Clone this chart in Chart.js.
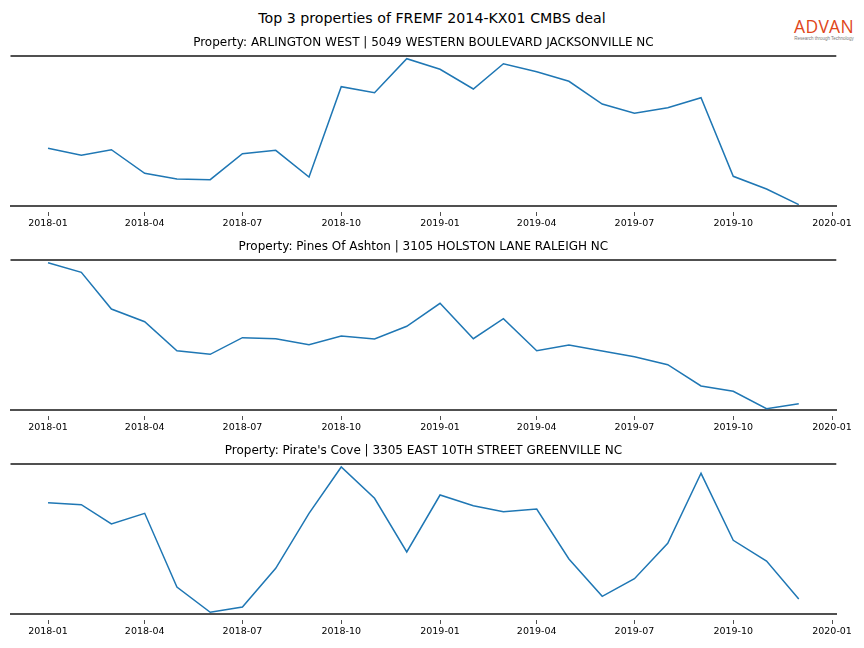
<!DOCTYPE html>
<html>
<head>
<meta charset="utf-8">
<script src="https://cdn.jsdelivr.net/npm/chart.js@4/dist/chart.umd.min.js"></script>
<style>
  body { margin: 0; background: #fff; }
  #wrap { position: relative; width: 864px; height: 648px; font-family: "DejaVu Sans", sans-serif; }
  #suptitle { position: absolute; left: 0; top: 10px; width: 864px; text-align: center; font-size: 14.2px; color: #000; }
  #logo { position: absolute; left: 788px; top: 17px; width: 72px; text-align: center; font-family: "Open Sans", sans-serif; }
  #logo .name { color: #e0461a; font-size: 17.5px; line-height: 19px; letter-spacing: 0.3px; }
  #logo .tag { color: #777; font-family: "Liberation Sans", sans-serif; font-size: 4.5px; line-height: 5px; white-space: nowrap; }
  canvas { position: absolute; left: 0; }
</style>
</head>
<body>
<div id="wrap">
  <div id="suptitle">Top 3 properties of FREMF 2014-KX01 CMBS deal</div>
  <div id="logo"><div class="name">ADVAN</div><div class="tag">Research through Technology</div></div>
  <canvas id="c0" width="864" height="204" style="top:28px"></canvas>
  <canvas id="c1" width="864" height="204" style="top:232px"></canvas>
  <canvas id="c2" width="864" height="204" style="top:436px"></canvas>
</div>
<script>
// monthly observations
let months = ["2018-01","2018-02","2018-03","2018-04","2018-05","2018-06",
              "2018-07","2018-08","2018-09","2018-10","2018-11","2018-12",
              "2019-01","2019-02","2019-03","2019-04","2019-05","2019-06",
              "2019-07","2019-08","2019-09","2019-10","2019-11","2019-12"];
let tickLabels = ["2018-01","2018-04","2018-07","2018-10","2019-01","2019-04","2019-07","2019-10","2020-01"];

let titles = [
  "Property: ARLINGTON WEST | 5049 WESTERN BOULEVARD JACKSONVILLE NC",
  "Property: Pines Of Ashton | 3105 HOLSTON LANE RALEIGH NC",
  "Property: Pirate's Cove | 3305 EAST 10TH STREET GREENVILLE NC"
];

let arlington = [57.7,50.7,56.3,32.7,27,26.3,52.3,55.7,29,119.3,113.3,147.3,
                 136.7,117,142.3,134.3,124.7,102,92.7,98.3,108.3,29.7,17,1.3];
let pines     = [147.3,137.7,101,88.3,59.3,55.7,72.3,71.3,65.3,74,71,83.7,
                 106.7,71.3,91.3,59.3,65,59,53.3,45.3,24,18.7,1.3,6.3];
let pirates   = [111.3,109.3,90,100.7,27,1.7,7,45.7,100.7,147,115.7,62,
                 119,108.3,102.3,105,55,17.7,35.3,70.7,140.7,73.7,53,15];

let series = [arlington, pines, pirates];

// days since 2018-01-01, so months sit on a real date axis
function dayOf(s) {
  let p = s.split('-');
  return (Date.UTC(+p[0], +p[1] - 1, 1) - Date.UTC(2018, 0, 1)) / 864e5;
}

let first = dayOf(months[0]);
let last = dayOf(months[months.length - 1]);
let pad = (last - first) * 0.05;

// top spine line
let topSpine = {
  id: 'topSpine',
  afterDraw(chart) {
    let a = chart.chartArea, ctx = chart.ctx;
    ctx.save();
    ctx.strokeStyle = '#505050';
    ctx.lineWidth = 2;
    ctx.beginPath();
    ctx.moveTo(a.left, a.top);
    ctx.lineTo(a.right, a.top);
    ctx.stroke();
    ctx.restore();
  }
};

series.forEach(function (vals, i) {
  let ctx = document.getElementById('c' + i).getContext('2d');
  new Chart(ctx, {
    type: 'line',
    data: {
      datasets: [{
        data: months.map((m, k) => ({ x: dayOf(m), y: vals[k] })),
        borderColor: '#1f77b4',
        borderWidth: 1.5,
        pointRadius: 0,
        tension: 0,
        fill: false
      }]
    },
    options: {
      responsive: false,
      animation: false,
      devicePixelRatio: 1,
      layout: { padding: { left: 10.5, right: 27.7, top: 0, bottom: 0.6 } },
      plugins: {
        legend: { display: false },
        tooltip: { enabled: false },
        title: {
          display: true,
          text: titles[i],
          color: '#000',
          font: { family: 'DejaVu Sans', size: 12, weight: 'normal' },
          padding: { top: 8, bottom: 5.6 }
        }
      },
      scales: {
        x: {
          type: 'linear',
          min: first - pad,
          max: last + pad,
          afterBuildTicks: function (axis) {
            axis.ticks = tickLabels.map(t => ({ value: dayOf(t) }));
          },
          ticks: {
            autoSkip: false,
            maxRotation: 0,
            padding: 2,
            color: '#000',
            font: { family: 'DejaVu Sans', size: 9.5 },
            callback: function (v) {
              return tickLabels.find(t => dayOf(t) === v) || '';
            }
          },
          grid: {
            display: true,
            drawOnChartArea: false,
            drawTicks: true,
            tickLength: 10,
            tickColor: '#222',
            tickWidth: 0.8,
            tickBorderDash: [0, 5, 5, 0]
          },
          border: { display: true, color: '#505050', width: 2 }
        },
        y: {
          display: false,
          min: 0,
          max: 150
        }
      }
    },
    plugins: [topSpine]
  });
});
</script>
</body>
</html>
